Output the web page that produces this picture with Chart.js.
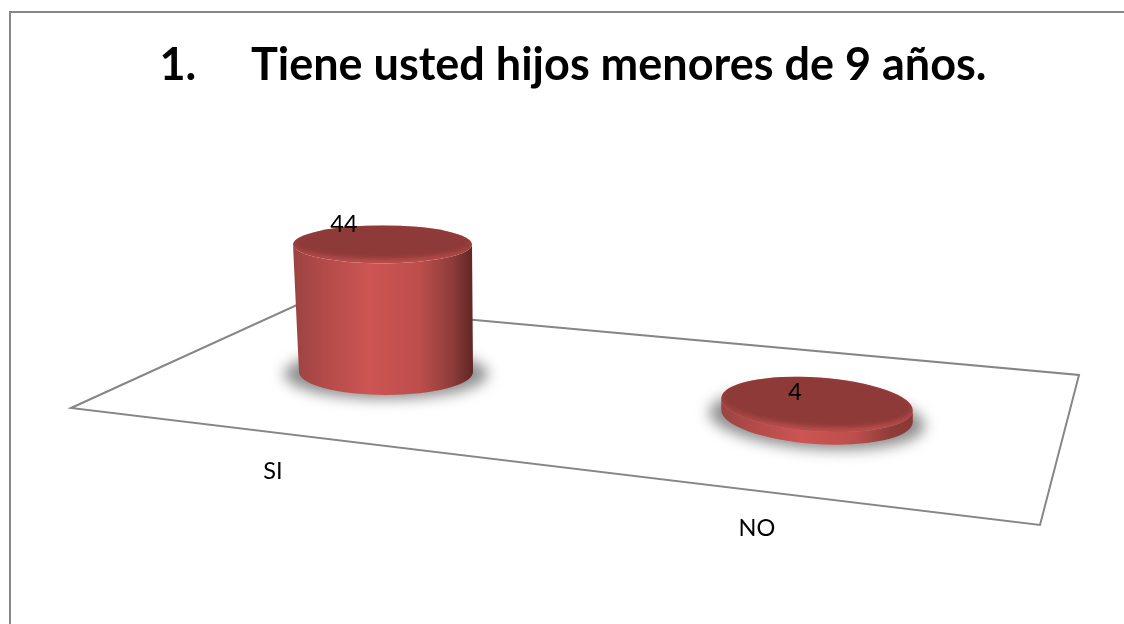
<!DOCTYPE html>
<html><head><meta charset="utf-8">
<style>html,body{margin:0;padding:0;background:#fff;overflow:hidden}#w{width:1124px;height:624px}</style>
<script src="https://cdn.jsdelivr.net/npm/chart.js@4/dist/chart.umd.min.js"></script>
</head><body><div id="w"><canvas id="c" width="1124" height="624"></canvas></div>
<script>
const categories = ['SI', 'NO'];
const seriesValues = [44, 4];
const chartTitle = '1.     Tiene usted hijos menores de 9 años.';

const LABEL_FONT = '23.5px Lato, Carlito, sans-serif';
const GRID = '#868686';
const floorCorners = [[71,408],[299,304],[1079,375],[1040,525]];
const perspective = [
  {drop:0,  topShift:-3.5, rxTop:89.5, ryTop:19, rxBase:87, ryBase:23, tilt:0,     shadow:[0,2,102,25], rimDark:'#5f2625', valDx:-42, valY:224, catDx:-113, catY:471},
  {drop:44, topShift:0,    rxTop:96,   ryTop:27, rxBase:96, ryBase:28, tilt:0.068, shadow:[0,3,108,30], rimDark:'#8a3836', valDx:-22, valY:392, catDx:-60,  catY:528}
];

const scene = {
  id:'scene',
  beforeDraw(chart){
    const c = chart.ctx;
    c.save();
    c.fillStyle='#fff'; c.fillRect(0,0,chart.width,chart.height);
    c.strokeStyle=GRID; c.lineWidth=2;
    c.beginPath(); c.moveTo(10,chart.height+2); c.lineTo(10,12); c.lineTo(chart.width+2,12); c.stroke();
    c.lineWidth=2; c.lineJoin='miter';
    c.beginPath();
    floorCorners.forEach((p,i)=> i? c.lineTo(p[0],p[1]) : c.moveTo(p[0],p[1]));
    c.closePath(); c.stroke();
    c.restore();
  },
  afterDatasetsDraw(chart){
    const c = chart.ctx;
    const bars = chart.getDatasetMeta(0).data;
    bars.forEach((bar,i)=>{
      const p = perspective[i];
      const bx = bar.x, by = bar.base + p.drop, tx = bar.x + p.topShift, ty = bar.y + p.drop;
      c.save();
      // soft floor shadow
      c.filter='blur(7px)'; c.fillStyle='#8e8e8e';
      c.beginPath(); c.ellipse(bx+p.shadow[0],by+p.shadow[1],p.shadow[2],p.shadow[3],p.tilt,0,Math.PI*2); c.fill();
      c.filter='none';
      // side wall
      const L = Math.min(tx-p.rxTop,bx-p.rxBase), R = Math.max(tx+p.rxTop,bx+p.rxBase);
      const g = c.createLinearGradient(L,0,R,0);
      g.addColorStop(0,'#9a4341'); g.addColorStop(0.15,'#b04a48'); g.addColorStop(0.42,'#cd5553');
      g.addColorStop(0.7,'#bd4e4c'); g.addColorStop(0.88,'#8f3d3b'); g.addColorStop(1,p.rimDark);
      c.fillStyle=g;
      const cosT=Math.cos(p.tilt), sinT=Math.sin(p.tilt);
      c.beginPath();
      c.moveTo(tx-p.rxTop*cosT, ty-p.rxTop*sinT);
      c.lineTo(bx-p.rxBase*cosT, by-p.rxBase*sinT);
      c.ellipse(bx,by,p.rxBase,p.ryBase,p.tilt,Math.PI,0,true);
      c.lineTo(tx+p.rxTop*cosT, ty+p.rxTop*sinT);
      c.ellipse(tx,ty,p.rxTop,p.ryTop,p.tilt,0,Math.PI,false);
      c.closePath(); c.fill();
      // top cap with bevelled rim
      const rim = c.createLinearGradient(0,ty-p.ryTop,0,ty+p.ryTop);
      rim.addColorStop(0,'#923c3a'); rim.addColorStop(0.6,'#a04341'); rim.addColorStop(1,'#bd4e4c');
      c.fillStyle=rim;
      c.beginPath(); c.ellipse(tx,ty,p.rxTop,p.ryTop,p.tilt,0,Math.PI*2); c.fill();
      c.save();
      c.beginPath(); c.ellipse(tx,ty,p.rxTop,p.ryTop,p.tilt,0,Math.PI*2); c.clip();
      c.filter='blur(2px)';
      c.fillStyle='#8e3a38';
      c.beginPath(); c.ellipse(tx,ty-2,p.rxTop-2,p.ryTop-3,p.tilt,0,Math.PI*2); c.fill();
      c.filter='none';
      c.restore();
      c.restore();
    });
    c.save();
    c.font=LABEL_FONT; c.fillStyle='#000'; c.textAlign='center'; c.textBaseline='middle';
    bars.forEach((bar,i)=>{
      const p = perspective[i];
      c.fillText(String(seriesValues[i]), bar.x+p.valDx, p.valY);
      c.fillText(categories[i], bar.x+p.catDx, p.catY);
    });
    c.restore();
  }
};

new Chart(document.getElementById('c'),{
  type:'bar',
  data:{labels:categories,datasets:[{data:seriesValues,backgroundColor:'rgba(0,0,0,0)',borderWidth:0}]},
  plugins:[scene],
  options:{
    responsive:false,animation:false,
    layout:{padding:{left:113.5,right:91.5,top:38,bottom:252}},
    plugins:{
      legend:{display:false},tooltip:{enabled:false},
      title:{display:true,text:chartTitle,color:'#000',align:'center',
        font:{family:'Lato, Carlito, sans-serif',size:45,weight:'bold',lineHeight:1.2},
        padding:{top:0,bottom:135}}
    },
    scales:{
      x:{display:false,grid:{display:false}},
      y:{min:0,max:50,display:true,grid:{display:false},border:{display:false},ticks:{display:false},
         afterFit(s){s.width=57;}}
    }
  }
});
</script></body></html>
